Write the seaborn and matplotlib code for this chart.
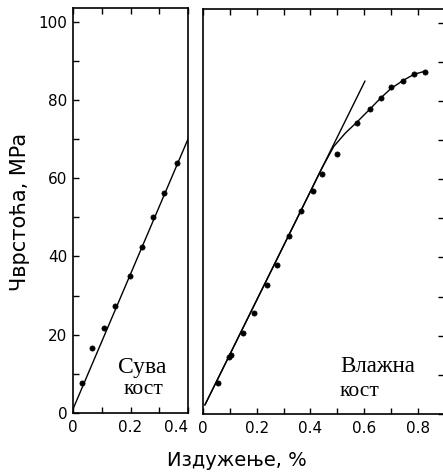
import matplotlib
matplotlib.use("Agg")
import matplotlib.pyplot as plt
import seaborn as sns
import pandas as pd
from matplotlib.ticker import MultipleLocator, FixedLocator

# ---- data ----
dry_x = [0.031, 0.066, 0.108, 0.146, 0.198, 0.240, 0.278, 0.317, 0.362]
dry_y = [7.7, 16.7, 21.8, 27.4, 35.1, 42.3, 50.0, 56.2, 63.8]
dry_fit_x = [0.0, 0.4]
dry_fit_y = [1.0, 70.0]

wet_x = [0.056, 0.097, 0.104, 0.149, 0.190, 0.238, 0.275, 0.320, 0.365,
         0.409, 0.443, 0.499, 0.573, 0.621, 0.662, 0.700, 0.744, 0.785, 0.826]
wet_y = [8.0, 14.6, 15.0, 20.8, 25.9, 33.0, 38.2, 45.4, 51.8,
         57.0, 61.3, 66.4, 74.4, 77.9, 80.8, 83.6, 85.0, 87.0, 87.5]
wet_tan_x = [0.007, 0.603]
wet_tan_y = [2.3, 85.1]
wet_curve_x = [0.007, 0.443, 0.487, 0.530, 0.573, 0.621, 0.662, 0.700, 0.744, 0.785, 0.826]
wet_curve_y = [2.3, 62.9, 68.4, 71.8, 74.6, 77.9, 80.8, 83.2, 85.2, 86.8, 87.6]

y_ticks = [0, 20, 40, 60, 80, 100]
y_ticklabels = ["0", "20", "40", "60", "80", "100"]
dry_xticks = [0.0, 0.2, 0.4]
dry_xticklabels = ["0", "0.2", "0.4"]
wet_xticks = [0.0, 0.2, 0.4, 0.6, 0.8]
wet_xticklabels = ["0", "0.2", "0.4", "0.6", "0.8"]

ylabel = "Чврстоћа, MPa"
xlabel = "Издужење, %"
dry_label = ("Сува", "кост")
wet_label = ("Влажна", "кост")

# ---- style ----
sns.set_theme(style="ticks")
plt.rcParams["font.family"] = ["DejaVu Sans"]
plt.rcParams["axes.linewidth"] = 1.2
plt.rcParams["text.color"] = "black"
plt.rcParams["axes.labelcolor"] = "black"
plt.rcParams["xtick.color"] = "black"
plt.rcParams["ytick.color"] = "black"
plt.rcParams["axes.edgecolor"] = "black"

W, H = 443, 474
fig = plt.figure(figsize=(W / 100, H / 100), dpi=100)

def px_axes(x0, x1, ytop, ybot):
    return fig.add_axes([x0 / W, (H - ybot) / H, (x1 - x0) / W, (ybot - ytop) / H])

ax1 = px_axes(73, 188, 8, 413)
ax2 = px_axes(203, 444, 9, 414)

dry_pts = pd.DataFrame({"x": dry_x, "y": dry_y})
dry_fit = pd.DataFrame({"x": dry_fit_x, "y": dry_fit_y})
wet_pts = pd.DataFrame({"x": wet_x, "y": wet_y})
wet_tan = pd.DataFrame({"x": wet_tan_x, "y": wet_tan_y})
wet_curve = pd.DataFrame({"x": wet_curve_x, "y": wet_curve_y})

sns.lineplot(data=dry_fit, x="x", y="y", ax=ax1, color="black", lw=1.0,
             estimator=None, sort=False)
sns.scatterplot(data=dry_pts, x="x", y="y", ax=ax1, color="black", s=14,
                marker="o", edgecolor="black", linewidth=0.5, zorder=3)

sns.lineplot(data=wet_tan, x="x", y="y", ax=ax2, color="black", lw=1.0,
             estimator=None, sort=False)
sns.lineplot(data=wet_curve, x="x", y="y", ax=ax2, color="black", lw=1.0,
             estimator=None, sort=False)
sns.scatterplot(data=wet_pts, x="x", y="y", ax=ax2, color="black", s=14,
                marker="o", edgecolor="black", linewidth=0.5, zorder=3)

for ax in (ax1, ax2):
    ax.set_ylim(0, 103.5)
    ax.set_xlabel("")
    ax.set_ylabel("")
    for s in ax.spines.values():
        s.set_color("black")
        s.set_linewidth(1.2)

ax1.set_xlim(0, 0.4)
ax2.set_xlim(0, 0.897)

# left panel ticks
ax1.yaxis.set_major_locator(FixedLocator(y_ticks))
ax1.set_yticklabels(y_ticklabels)
ax1.yaxis.set_minor_locator(MultipleLocator(10))
ax1.xaxis.set_major_locator(FixedLocator(dry_xticks))
ax1.set_xticklabels(dry_xticklabels)
ax1.xaxis.set_minor_locator(MultipleLocator(0.1))
ax1.tick_params(axis="both", which="both", direction="in", length=4.5, width=1.0,
                colors="black", labelsize=11, labelcolor="black")
ax1.tick_params(axis="y", which="both", left=True, right=False, pad=4)
ax1.tick_params(axis="x", which="both", bottom=True, top=True, pad=5)
ax1.get_xticklabels()[-1].set_horizontalalignment("right")

# right panel ticks
ax2.yaxis.tick_right()
ax2.yaxis.set_major_locator(MultipleLocator(10))
ax2.tick_params(axis="y", which="both", left=False, right=True, labelright=False,
                labelleft=False, direction="in", length=4.5, width=1.0, colors="black")
ax2.xaxis.set_major_locator(FixedLocator(wet_xticks))
ax2.set_xticklabels(wet_xticklabels)
ax2.xaxis.set_minor_locator(MultipleLocator(0.1))
ax2.tick_params(axis="x", which="both", bottom=True, top=True, direction="in",
                length=4.5, width=1.0, colors="black", labelsize=11,
                labelcolor="black", pad=5)

# panel annotations (serif)
serif = ["Liberation Serif", "DejaVu Serif"]
fig.text(118 / W, (H - 373) / H, dry_label[0], family=serif, fontsize=17,
         ha="left", va="baseline", color="black")
fig.text(124 / W, (H - 394) / H, dry_label[1], family=serif, fontsize=15.5,
         ha="left", va="baseline", color="black")
fig.text(340 / W, (H - 372) / H, wet_label[0], family=serif, fontsize=16.5,
         ha="left", va="baseline", color="black")
fig.text(340 / W, (H - 396) / H, wet_label[1], family=serif, fontsize=15.5,
         ha="left", va="baseline", color="black")

# axis labels
fig.text(237 / W, (H - 466) / H, xlabel, fontsize=14, ha="center",
         va="baseline", color="black")
fig.text(20 / W, (H - 212) / H, ylabel, fontsize=15, rotation=90,
         ha="center", va="center", color="black")

fig.savefig("out.png", dpi=100, facecolor="white")
